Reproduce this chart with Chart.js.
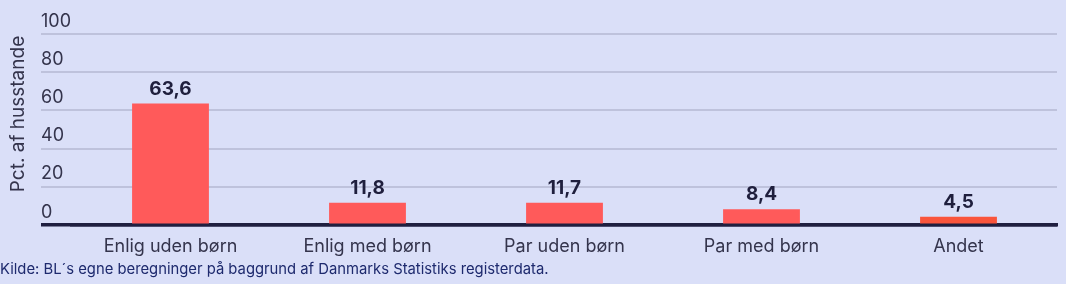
<!DOCTYPE html>
<html>
<head>
<meta charset="utf-8">
<script src="https://cdn.jsdelivr.net/npm/chart.js@4"></script>
<style>
  body { margin: 0; background: #dadff8; }
  #wrap { width: 1066px; height: 284px; position: relative; }
</style>
</head>
<body>
<div id="wrap"><canvas id="chart"></canvas></div>
<script>
var categories = ['Enlig uden børn', 'Enlig med børn', 'Par uden børn', 'Par med børn', 'Andet'];
var values = [63.6, 11.8, 11.7, 8.4, 4.5];
var barColors = ['#ff5a5a', '#ff5a5a', '#ff5a5a', '#ff5a5a', '#fa553c'];
var yTicks = [0, 20, 40, 60, 80, 100];
var yTitle = 'Pct. af husstande';
var source = 'Kilde: BL\u00B4s egne beregninger på baggrund af Danmarks Statistiks registerdata.';

var FONT = 'Inter, "Noto Sans", sans-serif';

// draws y tick labels above the grid lines, the axis title and the bar values
var labelsPlugin = {
    id: 'labels',
    afterDraw: function(chart) {
        var c = chart.ctx;
        var y = chart.scales.y;
        c.save();
        c.fillStyle = '#34344c';
        c.font = '18px ' + FONT;
        c.textAlign = 'left';
        c.textBaseline = 'alphabetic';
        yTicks.forEach(function(v) {
            c.fillText(String(v), 41, y.getPixelForValue(v) - 7.5);
        });

        c.save();
        c.translate(18, 114);
        c.rotate(-Math.PI / 2);
        c.textAlign = 'center';
        c.textBaseline = 'middle';
        c.font = '19px ' + FONT;
        c.fillText(yTitle, 0, 0);
        c.restore();

        c.fillStyle = '#1f1f3d';
        c.font = 'bold 19px ' + FONT;
        c.textAlign = 'center';
        chart.getDatasetMeta(0).data.forEach(function(bar, i) {
            c.fillText(values[i].toFixed(1).replace('.', ','), bar.x, bar.y - 9);
        });
        c.restore();
    }
};

var ctx = document.getElementById('chart').getContext('2d');
var chart = new Chart(ctx, {
    type: 'bar',
    data: {
        labels: categories,
        datasets: [{
            data: values,
            backgroundColor: barColors,
            borderWidth: 0,
            categoryPercentage: 1,
            barPercentage: 0.39
        }]
    },
    options: {
        responsive: true,
        maintainAspectRatio: false,
        animation: false,
        layout: { padding: { top: 34, right: 9, left: 0, bottom: 0 } },
        plugins: {
            legend: { display: false },
            tooltip: { enabled: false },
            title: {
                display: true,
                position: 'bottom',
                align: 'start',
                text: source,
                color: '#1e2a6e',
                font: { family: FONT, size: 14.8, weight: 'normal' },
                padding: { top: 2, bottom: 6 }
            }
        },
        scales: {
            x: {
                z: 1,
                grid: { display: false },
                border: { display: true, color: '#1f1f40', width: 3.5 },
                ticks: { color: '#34344c', font: { family: FONT, size: 18 }, padding: 3 },
                afterFit: function(s) { s.height = 33; }
            },
            y: {
                min: 0,
                max: 100,
                border: { display: false },
                ticks: { display: false, stepSize: 20 },
                grid: {
                    color: function(c) { return c.tick && c.tick.value === 0 ? '#1f1f40' : '#bec2dc'; },
                    lineWidth: function(c) { return c.tick && c.tick.value === 0 ? 3.5 : 2; },
                    tickLength: 31
                },
                afterFit: function(s) { s.width = 72; }
            }
        }
    },
    plugins: [labelsPlugin]
});
</script>
</body>
</html>
